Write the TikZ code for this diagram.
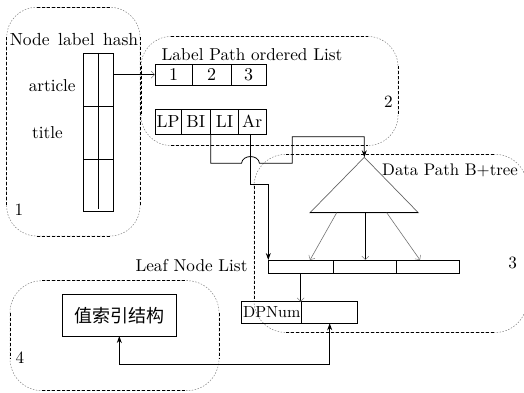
\documentclass[tikz,border=0pt]{standalone}
\usepackage{fontspec}
\usepackage{graphicx}
\newfontfamily\cjk{Noto Sans CJK SC}
\usetikzlibrary{arrows.meta,calc}
\newcommand\sz[2][1.72]{\scalebox{#1}{#2}}
\newcommand\zone[5]{%
  \draw[zonecurve,rounded corners=#5pt] (#1,#2) rectangle (#3,#4);
  \draw[zoneline] (#1+#5,#2) -- (#3-#5,#2);
  \draw[zoneline] (#1+#5,#4) -- (#3-#5,#4);
  \draw[zoneline] (#1,#2+#5) -- (#1,#4-#5);
  \draw[zoneline] (#3,#2+#5) -- (#3,#4-#5);
}
\begin{document}
\begin{tikzpicture}[x=1pt,y=-1pt,
  cell/.style={draw,line width=0.8pt,inner sep=0pt,outer sep=0pt,font=\fontsize{10}{12}\selectfont},
  lbl/.style={inner sep=0pt,font=\fontsize{10}{12}\selectfont},
  conn/.style={line width=0.8pt},
  fillarrow/.style={-{Stealth[length=7pt,width=5pt]}},
  opentip/.style={-{Straight Barb[length=3.5pt,width=7pt,color=black!50,line width=0.5pt]}},
  zonecurve/.style={draw=black!50,line width=0.5pt,dash pattern=on 1.5pt off 1.5pt},
  zoneline/.style={draw=black,line width=0.7pt,dash pattern=on 3pt off 2pt},
  tri/.style={draw=black!60,line width=0.7pt}]
\useasboundingbox (0,0) rectangle (524,393);

% regions
\zone{6.7}{7.3}{140}{236}{30}
\zone{141}{36.5}{398}{145.5}{30}
\zone{254}{154.3}{527}{332.5}{32}
\zone{10}{280.7}{219}{390.7}{32}

% region 1
\node[lbl] (tNLH) at (74,40) {\sz[1.75]{Node\hspace{1.5pt} label\hspace{1.5pt} hash}};
\node[lbl] (tart) at (52.2,86) {\sz{article}};
\node[lbl] (ttitle) at (47.5,133) {\sz{title}};
\node[lbl] (n1) at (19,210) {\sz{1}};
\node[draw,line width=0.8pt,minimum width=30pt,minimum height=158pt,inner sep=0pt,outer sep=0pt] (hash) at (98.3,132) {};
\draw[conn] (hash.north) -- ([yshift=2.5pt]hash.south);
\draw[conn] ($(hash.north west)+(0,53)$) -- ($(hash.north east)+(0,53)$);
\draw[conn] ($(hash.north west)+(0,106.3)$) -- ($(hash.north east)+(0,106.3)$);

% region 2
\node[lbl] (tLPO) at (252,55) {\sz{Label Path ordered List}};
\node[lbl] (n2) at (388.3,101.7) {\sz{2}};
\node[cell,minimum width=37pt,minimum height=20.7pt] (l1) at (173.5,74.7) {\sz[1.8]{1}};
\node[cell,minimum width=39pt,minimum height=20.7pt] (l2) at (211.5,74.7) {\sz[1.8]{2}};
\node[cell,minimum width=35pt,minimum height=20.7pt] (l3) at (248.5,74.7) {\sz[1.8]{3}};
\node[cell,minimum width=26pt,minimum height=24.5pt] (LP) at (168,121.7) {\sz[1.75]{LP}};
\node[cell,minimum width=29.7pt,minimum height=24.5pt] (BI) at (195.85,121.7) {\sz[1.75]{BI}};
\node[cell,minimum width=27.6pt,minimum height=24.5pt] (LI) at (224.5,121.7) {\sz[1.75]{LI}};
\node[cell,minimum width=27.7pt,minimum height=24.5pt] (Ar) at (252.15,121.7) {\sz[1.75]{Ar}};

% region 3
\node[lbl] (tDPB) at (450,170.7) {\sz[1.68]{Data Path B+tree}};
\node[lbl] (n3) at (512.7,262.7) {\sz{3}};
\coordinate (apex) at (364.3,157.3);
\coordinate (bl) at (310,212.7);
\coordinate (br) at (418.3,212.7);
\draw[tri] (apex) -- (bl) -- (br) -- cycle;
\draw[conn] (bl) -- (br);
\node[cell,minimum width=64.7pt,minimum height=13pt] (lf1) at (300.65,266.5) {};
\node[cell,minimum width=63.7pt,minimum height=13pt] (lf2) at (364.85,266.5) {};
\node[cell,minimum width=62.3pt,minimum height=13pt] (lf3) at (427.85,266.5) {};
\node[lbl] (tLNL) at (191.5,266) {\sz{Leaf Node List}};
\node[cell,minimum width=60pt,minimum height=21.6pt] (dp1) at (271.7,312.5) {\sz[1.6]{DPNum}};
\node[cell,minimum width=56pt,minimum height=21.6pt] (dp2) at (329.7,312.5) {};

% region 4
\node[lbl] (n4) at (20,358) {\sz{4}};
\node[cell,minimum width=113.3pt,minimum height=41.7pt,font=\cjk\fontsize{18}{20}\selectfont] (cn) at (119.3,315.2) {值索引结构};

% connectors
\draw[conn,opentip] (l1.west -| hash.east) -- (l1.west);
\coordinate (hopL) at (241.5,163.3);
\coordinate (hopR) at (259.5,163.3);
\coordinate (up1) at (292.3,136.7);
\draw[conn,fillarrow] (LI.south west) |- (hopL) .. controls +(1,-9) and +(-1,-9) .. (hopR) -| (up1) -| (apex);
\coordinate (arTurn) at (250.5,184);
\draw[conn,fillarrow] (Ar.south -| arTurn) -- (arTurn) -| (lf1.north west);
\coordinate (b1) at (336.7,212.7);
\coordinate (b2) at (365.3,212.7);
\coordinate (b3) at (386.7,212.7);
\coordinate (t1) at (310,260);
\coordinate (t3) at (420,260);
\draw[draw=black!55,line width=0.6pt,opentip] (b1) -- (t1);
\draw[conn,opentip] (b2) -- (b2 |- lf2.north);
\draw[draw=black!55,line width=0.6pt,opentip] (b3) -- (t3);
\draw[conn,opentip] (lf1.south) -- (lf1.south |- dp1.north);
\draw[conn,{Stealth[length=7pt,width=5pt]}-{Stealth[length=7pt,width=5pt]}] (cn.south) -- ++(0,28.3) -| (dp2.south);
\end{tikzpicture}
\end{document}
